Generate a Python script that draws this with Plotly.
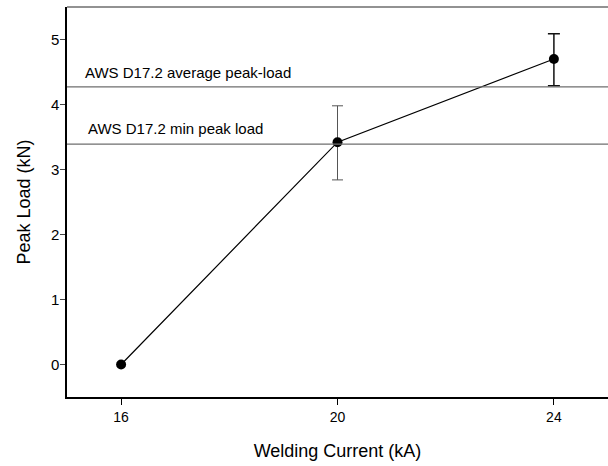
import plotly.graph_objects as go

current = [16, 20, 24]
peak_load = [0.0, 3.42, 4.70]
err_plus = [0.0, 0.56, 0.39]
err_minus = [0.0, 0.58, 0.41]
ref_values = [4.27, 3.39]
ref_labels = ["AWS D17.2 average peak-load", "AWS D17.2 min peak load"]
ref_label_x = [15.30, 15.36]
ref_label_y = [4.49, 3.63]

FONT = "Liberation Sans, Arial, sans-serif"

fig = go.Figure()

for v in ref_values:
    fig.add_shape(type="line", xref="paper", x0=0, x1=1, yref="y", y0=v, y1=v,
                  line=dict(color="#6e6e6e", width=1.2))
fig.add_shape(type="line", xref="paper", x0=0, x1=1, yref="paper", y0=1, y1=1,
              line=dict(color="#6e6e6e", width=1.5))

fig.add_trace(go.Scatter(
    x=[current[1]], y=[peak_load[1]], mode="markers",
    marker=dict(size=1, color="rgba(0,0,0,0)"),
    error_y=dict(type="data", symmetric=False, array=[err_plus[1]], arrayminus=[err_minus[1]],
                 color="#555555", thickness=1, width=5.5),
    showlegend=False, hoverinfo="skip"))
fig.add_trace(go.Scatter(
    x=[current[2]], y=[peak_load[2]], mode="markers",
    marker=dict(size=1, color="rgba(0,0,0,0)"),
    error_y=dict(type="data", symmetric=False, array=[err_plus[2]], arrayminus=[err_minus[2]],
                 color="#111111", thickness=1.5, width=6),
    showlegend=False, hoverinfo="skip"))

fig.add_trace(go.Scatter(
    x=current, y=peak_load, mode="lines+markers",
    line=dict(color="black", width=1.2),
    marker=dict(size=10, color="black"),
    showlegend=False))

for lab, lx, ly in zip(ref_labels, ref_label_x, ref_label_y):
    fig.add_annotation(x=lx, y=ly, xref="x", yref="y", text=lab, showarrow=False,
                       xanchor="left", yanchor="middle",
                       font=dict(family=FONT, size=15, color="black"))

fig.update_layout(
    width=608, height=466,
    margin=dict(l=67, r=0, t=7, b=69),
    paper_bgcolor="white", plot_bgcolor="white",
    font=dict(family=FONT, size=14, color="black"),
    xaxis=dict(range=[15, 25], tickvals=[16, 20, 24], ticks="outside", ticklen=6,
               tickwidth=1, tickcolor="black", showgrid=False, zeroline=False,
               showline=True, linecolor="black", linewidth=1.5, automargin=False,
               title=dict(text="Welding Current (kA)", font=dict(size=18), standoff=21),
               tickfont=dict(size=14)),
    yaxis=dict(range=[-0.5, 5.5], tickvals=[0, 1, 2, 3, 4, 5], ticks="outside", ticklen=5,
               tickwidth=1, tickcolor="#444444", showgrid=False, zeroline=False,
               showline=True, linecolor="black", linewidth=1.5, automargin=False,
               ticklabelstandoff=-2,
               title=dict(text="Peak Load (kN)", font=dict(size=18), standoff=16),
               tickfont=dict(size=15)),
)

fig.write_html("out.html", config={"displayModeBar": False},
               post_script="document.body.style.margin='0';")
